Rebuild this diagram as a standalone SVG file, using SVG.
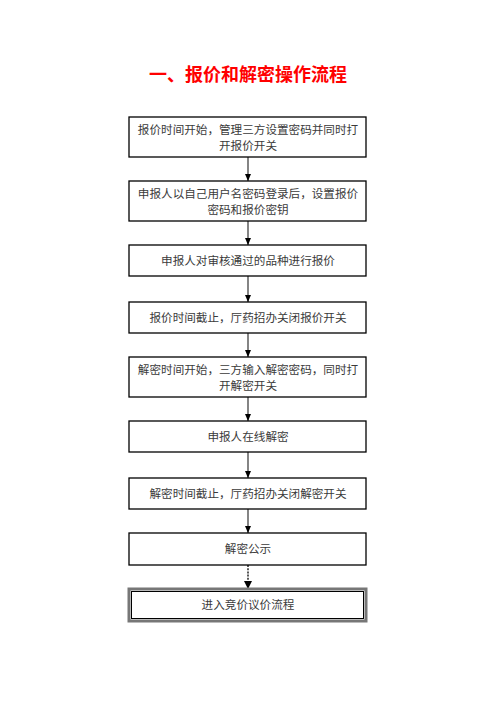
<svg xmlns="http://www.w3.org/2000/svg" width="496" height="702" viewBox="0 0 496 702">
<style>
.box{fill:#fff;stroke:#000;stroke-width:1.3}
.t{font-family:"Noto Sans CJK SC","Noto Sans",sans-serif;font-size:11.6px;fill:#3a3a3a;text-anchor:middle}
.title{font-family:"Noto Sans CJK SC","Noto Sans",sans-serif;font-size:18px;font-weight:bold;fill:#ff0000;text-anchor:middle}
.c{stroke:#333;stroke-width:1.2;fill:none}
.d{stroke:#222;stroke-width:1.5;fill:none;stroke-dasharray:2 1.2}
</style>
<defs>
<marker id="ah" markerWidth="8" markerHeight="8" refX="7" refY="4" orient="auto" markerUnits="userSpaceOnUse">
<path d="M0,1 L7,4 L0,7 Z" fill="#000"/>
</marker>
<marker id="ah2" markerWidth="10" markerHeight="10" refX="8" refY="5" orient="auto" markerUnits="userSpaceOnUse">
<path d="M0,1 L8,5 L0,9 Z" fill="#000"/>
</marker>
</defs>
<text class="title" x="248" y="81">一、报价和解密操作流程</text>
<g id="connectors">
<line class="c" x1="248" y1="157" x2="248" y2="181" marker-end="url(#ah)"/>
<line class="c" x1="248" y1="221" x2="248" y2="245" marker-end="url(#ah)"/>
<line class="c" x1="248" y1="276" x2="248" y2="302" marker-end="url(#ah)"/>
<line class="c" x1="248" y1="333" x2="248" y2="357" marker-end="url(#ah)"/>
<line class="c" x1="248" y1="397" x2="248" y2="421" marker-end="url(#ah)"/>
<line class="c" x1="248" y1="452" x2="248" y2="478" marker-end="url(#ah)"/>
<line class="c" x1="248" y1="509" x2="248" y2="533" marker-end="url(#ah)"/>
<line class="d" x1="248" y1="565" x2="248" y2="589" marker-end="url(#ah2)"/>
</g>
<g id="n1"><rect class="box" x="129" y="117" width="237" height="40"/>
<text class="t" x="248" y="134">报价时间开始，管理三方设置密码并同时打</text>
<text class="t" x="248" y="150">开报价开关</text></g>
<g id="n2"><rect class="box" x="129" y="181" width="237" height="40"/>
<text class="t" x="248" y="198">申报人以自己用户名密码登录后，设置报价</text>
<text class="t" x="248" y="214">密码和报价密钥</text></g>
<g id="n3"><rect class="box" x="129" y="245" width="237" height="31"/>
<text class="t" x="248" y="265">申报人对审核通过的品种进行报价</text></g>
<g id="n4"><rect class="box" x="129" y="302" width="237" height="31"/>
<text class="t" x="248" y="322">报价时间截止，厅药招办关闭报价开关</text></g>
<g id="n5"><rect class="box" x="129" y="357" width="237" height="40"/>
<text class="t" x="248" y="374">解密时间开始，三方输入解密密码，同时打</text>
<text class="t" x="248" y="390">开解密开关</text></g>
<g id="n6"><rect class="box" x="129" y="421" width="237" height="31"/>
<text class="t" x="248" y="441">申报人在线解密</text></g>
<g id="n7"><rect class="box" x="129" y="478" width="237" height="31"/>
<text class="t" x="248" y="498">解密时间截止，厅药招办关闭解密开关</text></g>
<g id="n8"><rect class="box" x="129" y="533" width="237" height="32"/>
<text class="t" x="248" y="553">解密公示</text></g>
<g id="n9"><rect x="129" y="589" width="237" height="32" fill="#fff" stroke="#777" stroke-width="3"/>
<rect x="131.5" y="591.5" width="232" height="27" fill="none" stroke="#000" stroke-width="1"/>
<text class="t" x="248" y="609">进入竞价议价流程</text></g>
</svg>
